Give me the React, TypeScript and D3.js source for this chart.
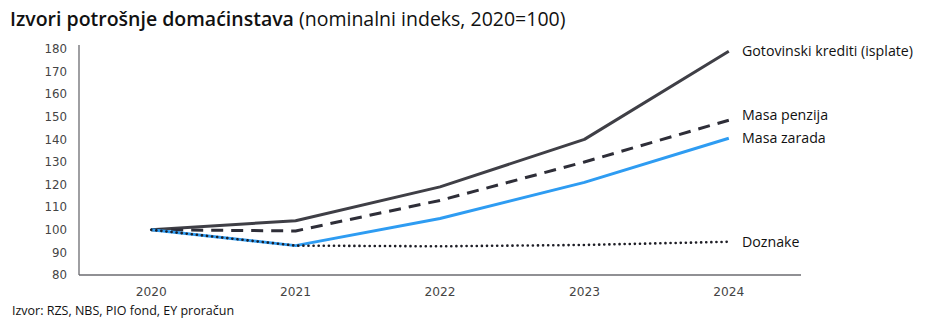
import React from "react";
import * as d3 from "d3";

const years = ["2020", "2021", "2022", "2023", "2024"];
const yTicks = [80, 90, 100, 110, 120, 130, 140, 150, 160, 170, 180];
const gotovinski = [100, 104, 119, 140, 179];
const penzije = [100, 99.5, 113, 130, 148.5];
const zarade = [100, 93, 105, 121, 140.5];
const doznake = [100, 93, 92.7, 93.3, 94.7];

const seriesNames = ["Gotovinski krediti (isplate)", "Masa penzija", "Masa zarada", "Doznake"];

const W = 930;
const H = 322;
const left = 79;
const right = 801;
const top = 49;
const bottom = 275;

export default function App() {
  const x = d3.scaleBand<string>().domain(years).range([left, right]);
  const y = d3.scaleLinear().domain([80, 180]).range([bottom, top]);
  const cx = (yr: string) => (x(yr) as number) + x.bandwidth() / 2;
  const line = d3
    .line<number>()
    .x((_, i) => cx(years[i]))
    .y((d) => y(d));

  const series = [
    { name: seriesNames[0], data: gotovinski, color: "#3f3f46", dash: undefined, cap: "butt", labelDy: 0 },
    { name: seriesNames[1], data: penzije, color: "#2e2e38", dash: "12 8", cap: "butt", labelDy: -5 },
    { name: seriesNames[2], data: zarade, color: "#2e9cf2", dash: undefined, cap: "butt", labelDy: 0 },
    { name: seriesNames[3], data: doznake, color: "#1e1e26", dash: "0.1 5", cap: "round", labelDy: 0 },
  ];

  const tickFont = "'DejaVu Sans', Verdana, sans-serif";
  const textFont = "'Open Sans', 'Noto Sans', sans-serif";

  return (
    <svg width={W} height={H} style={{ position: "absolute", left: 0, top: 0, background: "#fff" }}>
      <text x={10} y={26} fontFamily={textFont} fontSize={19.5} fill="#111">
        <tspan fontWeight={600}>Izvori potrošnje domaćinstava</tspan>
        <tspan fontWeight={400}> (nominalni indeks, 2020=100)</tspan>
      </text>
      {/* axes */}
      <line x1={left} x2={left} y1={top - 4} y2={bottom} stroke="#6b6b70" strokeWidth={1.3} />
      <line x1={left} x2={right} y1={bottom} y2={bottom} stroke="#6b6b70" strokeWidth={1.5} />
      {yTicks.map((t) => (
        <text key={t} x={67} y={y(t)} dy="0.35em" textAnchor="end" fontFamily={tickFont} fontSize={11.8} fill="#444">
          {t}
        </text>
      ))}
      {years.map((yr) => (
        <text key={yr} x={cx(yr)} y={296} textAnchor="middle" fontFamily={tickFont} fontSize={12.2} fill="#444">
          {yr}
        </text>
      ))}
      {series.map((s) => (
        <path
          key={s.name}
          d={line(s.data) || ""}
          fill="none"
          stroke={s.color}
          strokeWidth={s.cap === "round" ? 2.6 : 3}
          strokeDasharray={s.dash}
          strokeLinecap={s.cap as any}
          strokeLinejoin="round"
        />
      ))}
      {series.map((s) => (
        <text
          key={s.name + "l"}
          x={742}
          y={y(s.data[s.data.length - 1]) + s.labelDy}
          dy="0.35em"
          fontFamily={textFont}
          fontSize={14.2}
          fill="#111"
        >
          {s.name}
        </text>
      ))}
      <text x={12} y={315} fontFamily={textFont} fontSize={12.5} fill="#111">
        Izvor: RZS, NBS, PIO fond, EY proračun
      </text>
    </svg>
  );
}
